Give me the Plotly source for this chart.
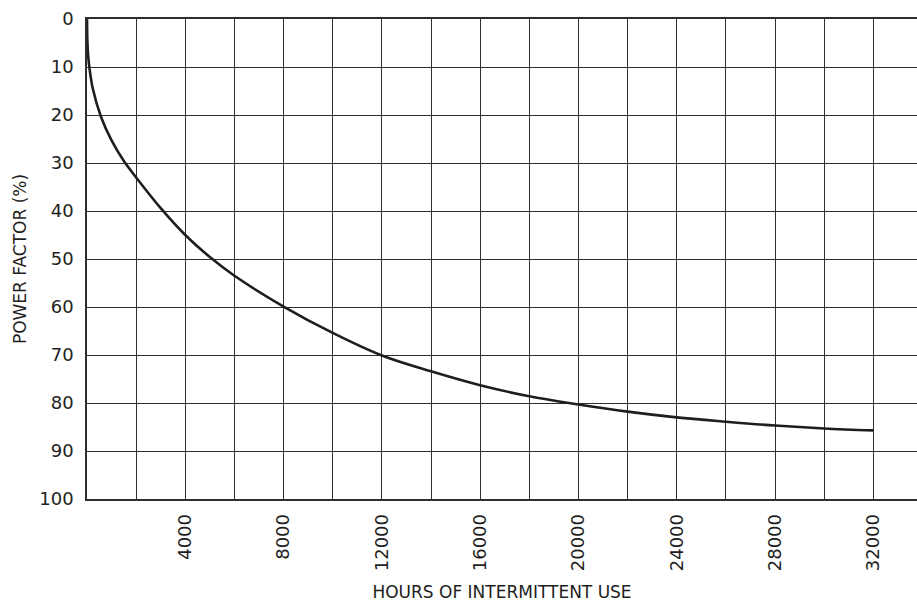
import plotly.graph_objects as go

# Curve (hours of intermittent use vs power factor %)
hours = [0, 15, 45, 100, 240, 565, 1000, 1500, 2000, 3000, 4000, 5000, 6000, 8000,
         10000, 12000, 14000, 16000, 18000, 20000, 22000, 24000, 26000,
         28000, 30000, 32000]
power_factor = [0, 4.5, 7.5, 10.2, 14.6, 20.3, 25.3, 29.6, 33.0, 39.4, 45.0, 49.6, 53.5, 59.9,
                65.4, 70.1, 73.4, 76.3, 78.6, 80.3, 81.8, 83.0, 83.9,
                84.7, 85.3, 85.7]

x_tick_vals = [4000, 8000, 12000, 16000, 20000, 24000, 28000, 32000]
x_tick_text = ["4000", "8000", "12000", "16000", "20000", "24000", "28000", "32000"]
y_tick_vals = [0, 10, 20, 30, 40, 50, 60, 70, 80, 90, 100]
y_tick_text = ["0", "10", "20", "30", "40", "50", "60", "70", "80", "90", "100"]

INK = "#1e1e1e"
GRID = "#2e2e2e"
FONT = "DejaVu Sans"

fig = go.Figure()
fig.add_trace(go.Scatter(
    x=hours, y=power_factor, mode="lines",
    line=dict(color=INK, width=2.6, shape="spline", smoothing=1.0),
    hoverinfo="skip", showlegend=False,
))

fig.update_layout(
    width=917, height=602,
    margin=dict(l=87, r=0, t=19, b=103, pad=0),
    paper_bgcolor="white", plot_bgcolor="white",
    font=dict(family=FONT, color=INK),
    xaxis=dict(
        range=[0, 33779], tickvals=x_tick_vals, ticktext=x_tick_text,
        tickangle=-90, tickfont=dict(size=18, family=FONT, color=INK),
        ticks="", ticklabelstandoff=6, automargin=False,
        showgrid=True, gridcolor=GRID, gridwidth=1.4,
        minor=dict(dtick=2000, tick0=0, showgrid=True, gridcolor=GRID, gridwidth=1.4),
        showline=True, linecolor=GRID, linewidth=1.6, mirror=True,
        zeroline=False,
        title=dict(text="HOURS OF INTERMITTENT USE", font=dict(size=17, family=FONT, color=INK),
                   standoff=16),
    ),
    yaxis=dict(
        range=[100, 0], tickvals=y_tick_vals, ticktext=y_tick_text,
        tickfont=dict(size=18, family=FONT, color=INK),
        ticks="", ticklabelstandoff=8, automargin=False,
        showgrid=True, gridcolor=GRID, gridwidth=1.4,
        showline=True, linecolor=GRID, linewidth=1.6, mirror=False,
        zeroline=False,
        title=dict(text="POWER FACTOR (%)", font=dict(size=17, family=FONT, color=INK),
                   standoff=8),
    ),
)

fig.write_html(
    "out.html",
    config={"displayModeBar": False},
    post_script="document.body.style.margin='0';document.body.style.overflow='hidden';",
)
